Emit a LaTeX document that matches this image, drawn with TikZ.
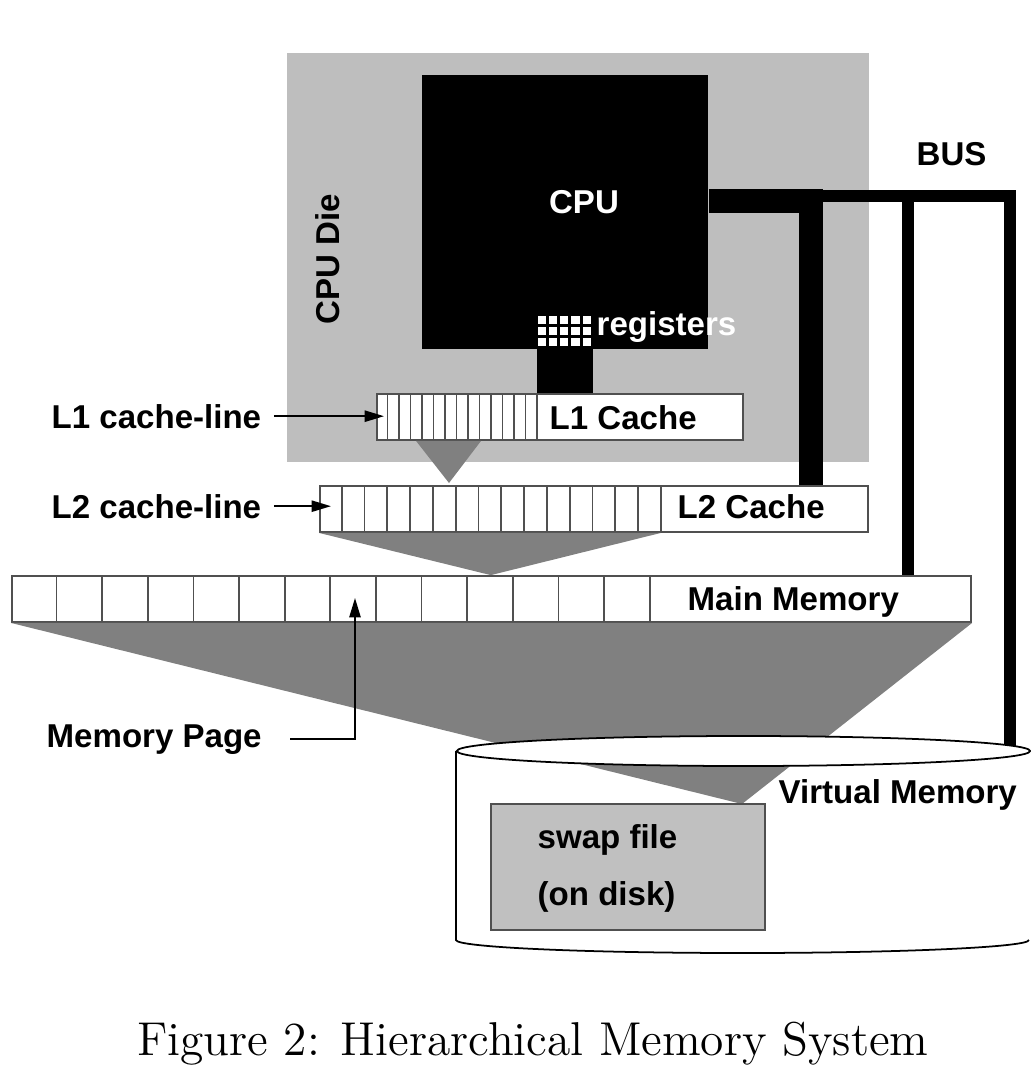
\documentclass[tikz,border=0pt]{standalone}
\usepackage{fontspec}
\usepackage{tikz}
\usetikzlibrary{arrows.meta,positioning,calc,shapes.geometric}
\newfontfamily\figsans{Liberation Sans}
\definecolor{diegray}{HTML}{BEBEBE}
\definecolor{fungray}{HTML}{808080}
\definecolor{swapgray}{HTML}{C0C0C0}
\definecolor{edgegray}{HTML}{505050}
\tikzset{
  diebox/.style   = {rectangle, fill=diegray, inner sep=0pt,
                     minimum width=5.82cm, minimum height=4.09cm},
  cpubox/.style   = {rectangle, fill=black, inner sep=0pt,
                     minimum width=2.86cm, minimum height=2.74cm},
  regbox/.style   = {rectangle, fill=black, inner sep=0pt,
                     minimum width=0.56cm, minimum height=0.33cm},
  membox/.style   = {rectangle, draw=edgegray, fill=white, line width=0.5pt,
                     inner sep=0pt, minimum height=0.46cm},
  swapbox/.style  = {rectangle, draw=edgegray, fill=swapgray, line width=0.5pt,
                     inner sep=0pt, minimum width=2.74cm, minimum height=1.26cm},
  diskbox/.style  = {ellipse, draw=black, fill=white, line width=0.5pt,
                     inner sep=0pt, minimum width=5.73cm, minimum height=0.30cm},
  cellline/.style = {draw=edgegray, line width=0.5pt},
  funnel/.style   = {fill=fungray},
  busthick/.style = {line width=0.24cm, black},
  busthin/.style  = {line width=0.12cm, black},
  ptr/.style      = {-{Triangle[length=5.5pt,width=3.2pt]}, line width=0.5pt},
  lbl/.style      = {font=\figsans\bfseries\fontsize{9.4}{11}\selectfont, inner sep=0pt},
  wlbl/.style     = {lbl, text=white},
}

\begin{document}
\begin{tikzpicture}[x=0.01cm, y=-0.01cm]
\useasboundingbox (0,0) rectangle (1031,1078);

% CPU die with the CPU on it
\node[diebox] (die) at (578,257.5) {};
\node[cpubox] (cpu) at (565,212) {};
\node[wlbl, anchor=base] (cpulbl) at (584,213) {CPU};
\node[lbl, rotate=90] (dielbl) at (328,259) {CPU Die};

% register file (5 x 3 cells)
\node[regbox] (regs) at (565,331.5) {};
\foreach \c in {0,...,4} {
  \foreach \r in {0,1,2} {
    \fill[white] ($(regs.north west)+(11.2*\c+1.5,11*\r+1.5)$) rectangle ++(8.2,8);
  }
}
\node[wlbl, anchor=base west] (reglbl) at (596,335) {registers};

% cache and memory rows
\node[membox, minimum width=3.66cm] (l1)  at (560,417)   {};
\node[membox, minimum width=5.48cm] (l2)  at (594,509)   {};
\node[membox, minimum width=9.59cm] (mem) at (491.5,599) {};
\foreach \i in {1,...,14} \draw[cellline] ($(l1.north west)+(11.5*\i,0)$) -- ++(0,46);
\foreach \i in {1,...,15} \draw[cellline] ($(l2.north west)+(22.8*\i,0)$) -- ++(0,46);
\foreach \i in {1,...,14} \draw[cellline] ($(mem.north west)+(45.64*\i,0)$) -- ++(0,46);
\node[lbl, anchor=base west] (l1txt)  at (549,429) {L1 Cache};
\node[lbl, anchor=base west] (l2txt)  at (677,518) {L2 Cache};
\node[lbl, anchor=base west] (memtxt) at (687,610) {Main Memory};

% path from registers down to L1
\draw[line width=0.56cm] (regs.south) -- (regs.south |- l1.north);

% funnels between the levels
\coordinate (swaptop) at (742,804);
\coordinate (diskc)   at (743.5,751);
\fill[funnel] ($(l1.south west)+(40,0)$) -- ($(l1.south west)+(105,0)$) -- (449,483) -- cycle;
\fill[funnel] (l2.south west) -- ($(l2.south west)+(342,0)$) -- ($(mem.north west)+(480,0)$) -- cycle;
\fill[funnel] (mem.south west) -- (mem.south east) -- (swaptop) -- cycle;

% bus
\coordinate (tapL2)  at (811,201);
\coordinate (tapmem) at (907.5,195.5);
\coordinate (busend) at (1010,195.5);
\draw[busthick] (cpu.east |- tapL2) -- (tapL2) -- (tapL2 |- l2.north);
\draw[busthin] (tapL2 |- busend) -- (busend) -- (busend |- diskc);
\draw[busthin] (tapmem) -- (tapmem |- mem.north);
\node[lbl, anchor=base west] (buslbl) at (916,165) {BUS};

% disk
\node[diskbox] (disk) at (diskc) {};
\draw[line width=0.5pt] (disk.west) -- ++(0,189)
  arc[start angle=180, end angle=0, x radius=286.5, y radius=13];
\node[lbl, anchor=base west] (vmtxt) at (778,803) {Virtual Memory};
\node[swapbox] (swap) at (628,867) {};
\node[lbl, anchor=base west] (swaptxt) at (537,848) {swap file};
\node[lbl, anchor=base west] (disktxt) at (537,905) {(on disk)};

% pointers
\node[lbl, anchor=base west] (l1line) at (51,428) {L1 cache-line};
\node[lbl, anchor=base west] (l2line) at (51,518) {L2 cache-line};
\node[lbl, anchor=base west] (pagelbl) at (46,747) {Memory Page};
\coordinate (pagecell) at (355,598);
\draw[ptr] ($(l1line.east)+(12,0)$) -- ($(l1line.east -| l1.west)+(8,0)$);
\draw[ptr] ($(l2line.east)+(12,0)$) -- ($(l2line.east -| l2.west)+(12,0)$);
\draw[ptr] ($(pagelbl.east)+(28,0)$) -| (pagecell);

% caption
\node[font=\fontsize{13.5}{16}\selectfont, anchor=base] (caption) at (533,1055)
  {Figure 2: Hierarchical Memory System};
\end{tikzpicture}
\end{document}
